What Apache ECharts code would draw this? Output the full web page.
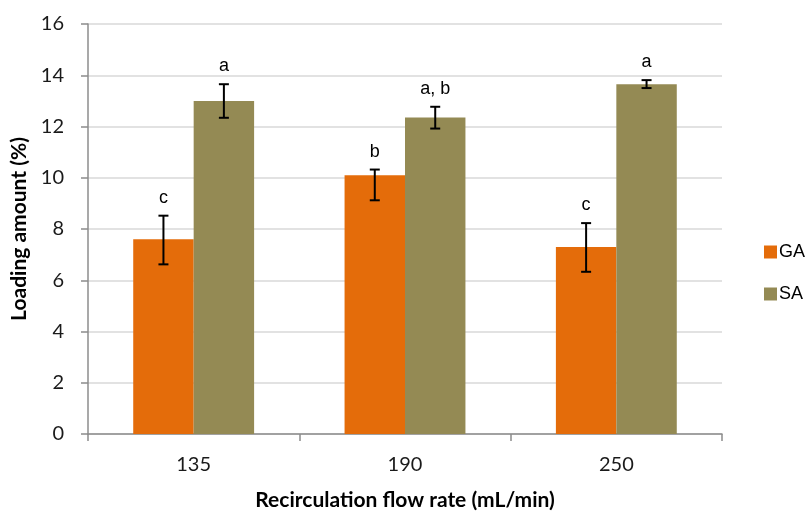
<!DOCTYPE html>
<html>
<head>
<meta charset="utf-8">
<script src="https://cdn.jsdelivr.net/npm/echarts@6/dist/echarts.min.js"></script>
<style>html,body{margin:0;padding:0;background:#fff;}#c{width:808px;height:512px;}</style>
</head>
<body>
<div id="c"></div>
<script>
var categories = ['135', '190', '250'];
var gaValues = [7.6, 10.1, 7.3];
var gaErrLow = [6.62, 9.12, 6.33];
var gaErrHigh = [8.52, 10.32, 8.23];
var gaLetters = ['c', 'b', 'c'];
var saValues = [13.0, 12.35, 13.65];
var saErrLow = [12.34, 11.92, 13.5];
var saErrHigh = [13.65, 12.77, 13.81];
var saLetters = ['a', 'a, b', 'a'];
var yTicks = [0, 2, 4, 6, 8, 10, 12, 14, 16];

var BAR_FRAC = 0.286;
var tickFont = 'Lato, "Open Sans", sans-serif';

function errSeries(name, low, high, letters, side) {
  var data = categories.map(function (c, i) { return [i, low[i], high[i], letters[i]]; });
  return {
    type: 'custom',
    name: name + ' err',
    z: 10,
    silent: true,
    renderItem: function (params, api) {
      var i = api.value(0);
      var band = api.size([1, 0])[0];
      var off = side * band * BAR_FRAC / 2;
      var pLow = api.coord([i, api.value(1)]);
      var pHigh = api.coord([i, api.value(2)]);
      var x = pLow[0] + off;
      var cap = 5;
      var st = { stroke: '#000', lineWidth: 2 };
      return {
        type: 'group',
        children: [
          { type: 'line', shape: { x1: x, y1: pLow[1], x2: x, y2: pHigh[1] }, style: st },
          { type: 'line', shape: { x1: x - cap, y1: pLow[1], x2: x + cap, y2: pLow[1] }, style: st },
          { type: 'line', shape: { x1: x - cap, y1: pHigh[1], x2: x + cap, y2: pHigh[1] }, style: st },
          { type: 'text', x: x, y: pHigh[1] - 9, style: { text: letters[i], fill: '#000', font: '18px "Liberation Sans", Arial, sans-serif', align: 'center', verticalAlign: 'bottom' } }
        ]
      };
    },
    data: data
  };
}

var chart = echarts.init(document.getElementById('c'), null, { renderer: 'canvas' });
chart.setOption({
  animation: false,
  backgroundColor: '#fff',
  grid: { left: 88, right: 86, top: 24, bottom: 78, outerBoundsMode: 'none', containLabel: false },
  legend: {
    orient: 'vertical',
    left: 759,
    top: 238,
    itemWidth: 13,
    itemHeight: 13,
    itemGap: 24,
    icon: 'rect',
    data: ['GA', 'SA'],
    textStyle: { fontFamily: '"Liberation Sans", Arial, sans-serif', fontSize: 18, color: '#000', padding: [0, 0, 0, -3] }
  },
  xAxis: {
    type: 'category',
    data: categories,
    axisLine: { lineStyle: { color: '#8c8c8c', width: 1.5 } },
    axisTick: { show: true, length: 7, alignWithLabel: false, lineStyle: { color: '#8c8c8c', width: 1.5 } },
    axisLabel: { fontFamily: tickFont, fontSize: 20, color: '#1a1a1a', margin: 21 },
    name: 'Recirculation flow rate (mL/min)',
    nameLocation: 'middle',
    nameGap: 56,
    nameTextStyle: { fontFamily: tickFont, fontWeight: 'bold', fontSize: 21, color: '#000' }
  },
  yAxis: {
    type: 'value',
    min: 0,
    max: 16,
    interval: 2,
    axisLine: { show: true, lineStyle: { color: '#8c8c8c', width: 1.5 } },
    axisTick: { show: true, length: 7, lineStyle: { color: '#8c8c8c', width: 1.5 } },
    splitLine: { lineStyle: { color: '#d9d9d9', width: 1.5 } },
    axisLabel: { fontFamily: tickFont, fontSize: 20, color: '#1a1a1a', margin: 24,
      formatter: function (v) { return yTicks.indexOf(v) >= 0 ? String(v) : ''; } },
    name: 'Loading amount (%)',
    nameLocation: 'middle',
    nameGap: 56,
    nameTextStyle: { fontFamily: tickFont, fontWeight: 'bold', fontSize: 21, color: '#000' }
  },
  series: [
    { type: 'bar', name: 'GA', data: gaValues, barWidth: (BAR_FRAC * 100) + '%', barGap: '0%', itemStyle: { color: '#E46C0A' } },
    { type: 'bar', name: 'SA', data: saValues, barWidth: (BAR_FRAC * 100) + '%', barGap: '0%', itemStyle: { color: '#948A54' } },
    errSeries('GA', gaErrLow, gaErrHigh, gaLetters, -1),
    errSeries('SA', saErrLow, saErrHigh, saLetters, 1)
  ]
});
</script>
</body>
</html>
